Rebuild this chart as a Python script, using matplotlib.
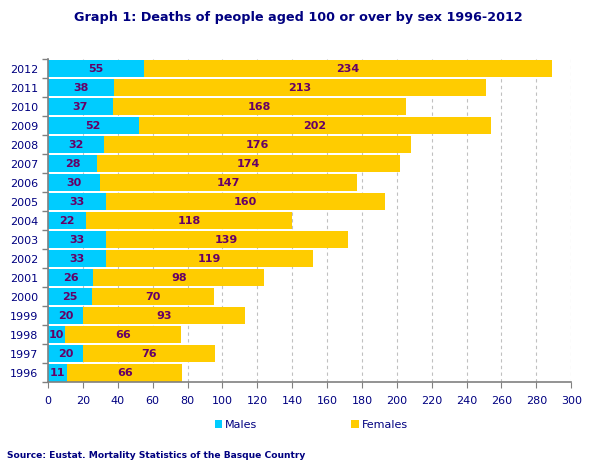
import matplotlib.pyplot as plt
import numpy as np

years = [str(y) for y in range(1996, 2013)]
males = [11, 20, 10, 20, 25, 26, 33, 33, 22, 33, 30, 28, 32, 52, 37, 38, 55]
females = [66, 76, 66, 93, 70, 98, 119, 139, 118, 160, 147, 174, 176, 202, 168, 213, 234]

navy = '#000080'
lbl = '#660066'
cyan = '#00CCFF'
gold = '#FFCC00'

plt.rcParams['font.family'] = ['Verdana', 'DejaVu Sans']

fig = plt.figure(figsize=(5.96, 4.71), dpi=100)
ax = fig.add_axes([0.0805, 0.188, 0.878, 0.686])

y = np.arange(len(years))
bm = ax.barh(y, males, height=0.9, color=cyan, label='Males')
bf = ax.barh(y, females, left=males, height=0.9, color=gold, label='Females')

for i in range(len(years)):
    ax.text(males[i] / 2, y[i], str(males[i]), ha='center', va='center',
            color=lbl, fontsize=8, fontweight='bold')
    ax.text(males[i] + females[i] / 2, y[i], str(females[i]), ha='center',
            va='center', color=lbl, fontsize=8, fontweight='bold')

ax.set_xlim(0, 300)
ax.set_ylim(-0.5, len(years) - 0.5)
ax.set_xticks(range(0, 301, 20))
ax.set_yticks(y)
ax.set_yticklabels(years)
ax.set_yticks(np.arange(-0.5, len(years), 1), minor=True)
ax.tick_params(axis='y', which='major', length=0, labelsize=8, labelcolor=navy, pad=7)
ax.tick_params(axis='y', which='minor', length=4, color='#808080', width=1)
ax.tick_params(axis='x', length=4, color='#808080', labelsize=8, labelcolor=navy, pad=6)

ax.grid(axis='x', color='#c0c0c0', linestyle=(0, (3, 3)), linewidth=0.8)
ax.set_axisbelow(True)
for s in ['top', 'right']:
    ax.spines[s].set_visible(False)
for s in ['left', 'bottom']:
    ax.spines[s].set_color('#808080')
    ax.spines[s].set_linewidth(1.2)

fig.text(0.5, 0.962, 'Graph 1: Deaths of people aged 100 or over by sex 1996-2012',
         ha='center', va='center', color=navy, fontsize=9.2, fontweight='bold')

leg = fig.legend(handles=[bm, bf], loc='center', bbox_to_anchor=(0.522, 0.098),
                 ncol=2, frameon=False, fontsize=8, handlelength=0.7,
                 handleheight=0.7, handletextpad=0.2, columnspacing=8.5)
for t in leg.get_texts():
    t.set_color(navy)

fig.text(0.012, 0.033, 'Source: Eustat. Mortality Statistics of the Basque Country',
         ha='left', va='center', color=navy, fontsize=6.6, fontweight='bold')

fig.savefig('out.png', dpi=100)
